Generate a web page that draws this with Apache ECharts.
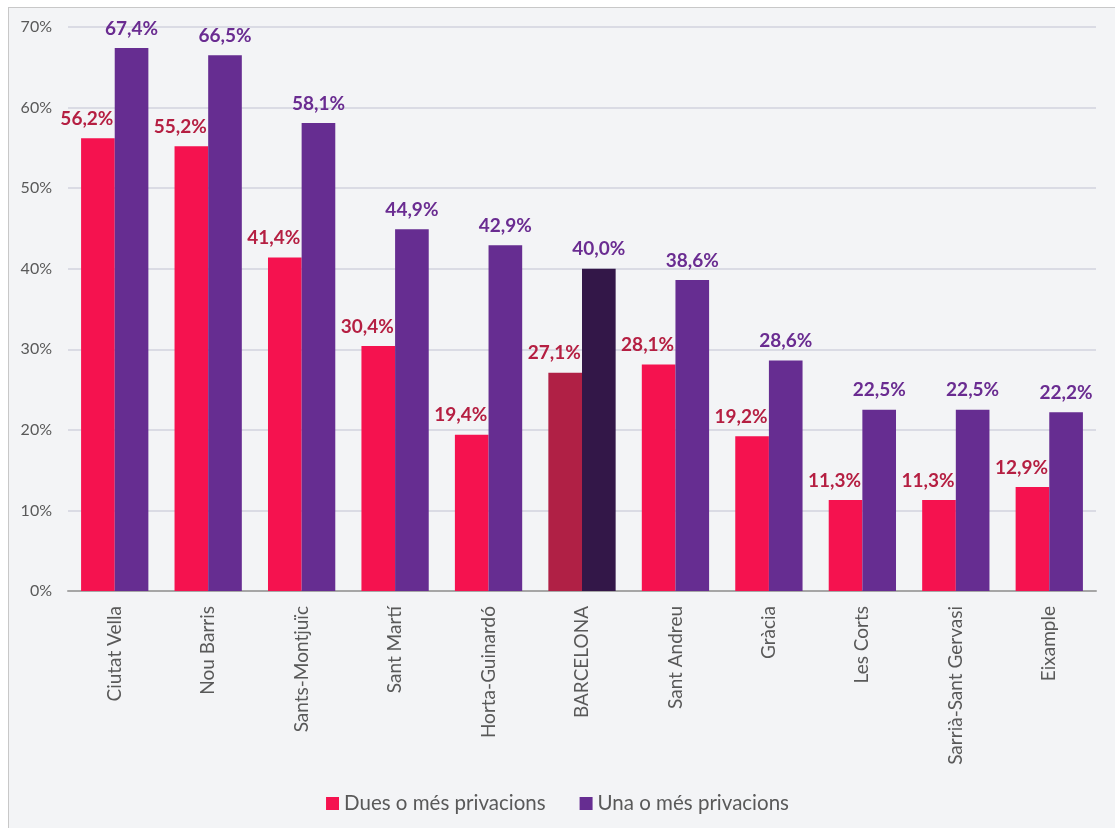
<!DOCTYPE html>
<html>
<head>
<meta charset="utf-8">
<script src="https://cdn.jsdelivr.net/npm/echarts@6/dist/echarts.min.js"></script>
<style>
  html, body { margin: 0; padding: 0; background: #ffffff; }
  #frame {
    position: absolute; left: 8px; top: 7px; width: 1107px; height: 821px;
    border-left: 1px solid #c8c8c8; border-top: 1px solid #c8c8c8;
    background: #f3f4f6;
  }
  #chart { position: absolute; left: -9px; top: -8px; width: 1115px; height: 828px; }
</style>
</head>
<body>
<div id="frame"><div id="chart"></div></div>
<script>
const districts = ['Ciutat Vella', 'Nou Barris', 'Sants-Montjuïc', 'Sant Martí', 'Horta-Guinardó', 'BARCELONA',
  'Sant Andreu', 'Gràcia', 'Les Corts', 'Sarrià-Sant Gervasi', 'Eixample']
const duesValues = [56.2, 55.2, 41.4, 30.4, 19.4, 27.1, 28.1, 19.2, 11.3, 11.3, 12.9]
const unaValues = [67.4, 66.5, 58.1, 44.9, 42.9, 40.0, 38.6, 28.6, 22.5, 22.5, 22.2]
const yTicks = [0, 10, 20, 30, 40, 50, 60, 70]

const pink = '#f5124f'
const purple = '#662d91'
const fontFamily = 'Lato, "Open Sans", sans-serif'

function fmt (v) {
  return v.toFixed(1).replace('.', ',') + '%'
}

// barcelona bars get darker colours
function barData (values, color, highlight) {
  return values.map((v, i) => {
    if (districts[i] === 'BARCELONA') {
      return { value: v, itemStyle: { color: highlight } }
    }
    return { value: v, itemStyle: { color: color } }
  })
}

const chart = echarts.init(document.getElementById('chart'))
chart.setOption({
  backgroundColor: 'transparent',
  animation: false,
  textStyle: { fontFamily: fontFamily },
  grid: { left: 68, right: 19, top: 27, bottom: 237 },
  legend: {
    bottom: 9,
    left: 'center',
    itemWidth: 13,
    itemHeight: 13,
    itemGap: 34,
    icon: 'rect',
    textStyle: { color: '#595959', fontSize: 20.5, fontFamily: fontFamily },
    data: ['Dues o més privacions', 'Una o més privacions']
  },
  xAxis: {
    type: 'category',
    data: districts,
    axisLine: { lineStyle: { color: '#a6a6a6', width: 2 } },
    axisTick: { show: false },
    axisLabel: {
      rotate: 90,
      margin: 15,
      color: '#595959',
      fontSize: 19,
      fontFamily: fontFamily
    }
  },
  yAxis: {
    type: 'value',
    min: yTicks[0],
    max: yTicks[yTicks.length - 1],
    interval: 10,
    axisLine: { show: false },
    axisTick: { show: false },
    splitLine: { lineStyle: { color: '#dadbe4', width: 2 } },
    axisLabel: {
      margin: 16,
      color: '#595959',
      fontSize: 16,
      fontFamily: fontFamily,
      formatter: v => v + '%'
    }
  },
  series: [
    {
      name: 'Dues o més privacions',
      type: 'bar',
      barGap: '0%',
      barCategoryGap: '28%',
      itemStyle: { color: pink },
      data: barData(duesValues, pink, '#b02045'),
      label: {
        show: true,
        position: 'top',
        offset: [-11, -5],
        color: '#b51f42',
        fontWeight: 'bold',
        fontSize: 19,
        fontFamily: fontFamily,
        formatter: p => fmt(p.value)
      }
    },
    {
      name: 'Una o més privacions',
      type: 'bar',
      itemStyle: { color: purple },
      data: barData(unaValues, purple, '#331748'),
      label: {
        show: true,
        position: 'top',
        offset: [0, -5],
        color: '#6a2c91',
        fontWeight: 'bold',
        fontSize: 19,
        fontFamily: fontFamily,
        formatter: p => fmt(p.value)
      }
    }
  ]
})
</script>
</body>
</html>
